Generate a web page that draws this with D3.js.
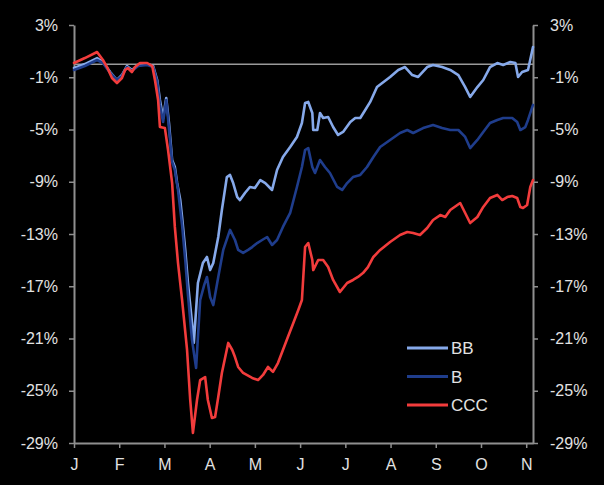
<!DOCTYPE html>
<html>
<head>
<meta charset="utf-8">
<script src="https://cdn.jsdelivr.net/npm/d3@7"></script>
<style>
  html, body { margin: 0; padding: 0; background: #000; }
  svg { display: block; }
  text { font-family: "Liberation Sans", Arial, sans-serif; fill: #e2e2e2; }
</style>
</head>
<body>
<svg id="chart" width="604" height="485"></svg>
<script>
// Month labels (x positions are month index: 0 = J(an) ... 10 = N(ov))
const monthLabels = ["J","F","M","A","M","J","J","A","S","O","N"];
const yTicks = [3, -1, -5, -9, -13, -17, -21, -25, -29];
const seriesNames = ["BB", "B", "CCC"];

// Each series: [month position, return %]
const bbData = [
  [0,-0.29],[0.24,0.01],[0.51,0.47],[0.64,0.17],[0.80,-0.60],[0.95,-1.21],[1.06,-0.83],[1.17,-0.14],
  [1.28,-0.44],[1.42,-0.06],[1.62,0.01],[1.75,-0.14],[1.84,-1.21],[1.90,-2.74],[1.97,-4.12],[2.04,-2.59],
  [2.10,-4.50],[2.17,-7.34],[2.23,-7.87],[2.28,-9.10],[2.35,-10.40],[2.39,-11.70],[2.46,-14.22],[2.52,-16.75],
  [2.61,-19.81],[2.65,-21.34],[2.74,-16.75],[2.85,-15.22],[2.94,-14.76],[3.01,-15.76],[3.08,-15.22],[3.19,-13.23],
  [3.27,-11.16],[3.38,-8.64],[3.45,-8.48],[3.52,-9.10],[3.61,-10.17],[3.67,-10.40],[3.78,-9.86],[3.89,-9.40],
  [4.00,-9.48],[4.12,-8.87],[4.23,-9.10],[4.38,-9.63],[4.49,-8.10],[4.62,-7.11],[4.78,-6.34],[4.93,-5.57],
  [5.04,-4.50],[5.11,-2.97],[5.18,-2.89],[5.27,-3.74],[5.29,-5.04],[5.38,-5.04],[5.44,-3.74],[5.51,-4.12],
  [5.62,-4.04],[5.73,-4.81],[5.84,-5.42],[5.95,-5.19],[6.11,-4.43],[6.22,-4.12],[6.33,-4.12],[6.44,-3.51],
  [6.55,-2.89],[6.70,-1.75],[6.99,-0.98],[7.17,-0.44],[7.32,-0.22],[7.48,-0.83],[7.61,-0.98],[7.81,-0.22],
  [7.94,-0.06],[8.14,-0.22],[8.32,-0.44],[8.50,-0.83],[8.65,-1.75],[8.76,-2.51],[8.92,-1.75],[9.05,-1.21],
  [9.20,-0.22],[9.36,0.09],[9.49,-0.06],[9.65,0.17],[9.76,0.09],[9.82,-0.98],[9.91,-0.60],[10.04,-0.44],
  [10.15,1.32]
];
const bData = [
  [0,-0.44],[0.24,-0.14],[0.51,0.32],[0.64,0.09],[0.80,-0.67],[0.95,-1.21],[1.06,-0.90],[1.17,-0.22],
  [1.28,-0.52],[1.42,-0.14],[1.62,-0.06],[1.75,-0.22],[1.84,-1.36],[1.90,-3.12],[1.97,-4.43],[2.04,-2.74],
  [2.10,-4.89],[2.17,-7.49],[2.23,-8.10],[2.30,-9.63],[2.39,-12.31],[2.46,-14.99],[2.52,-17.67],[2.61,-21.12],
  [2.70,-23.26],[2.79,-18.05],[2.88,-16.90],[2.94,-16.29],[3.01,-17.82],[3.08,-18.44],[3.19,-16.29],[3.30,-14.22],
  [3.45,-12.69],[3.56,-13.46],[3.63,-14.22],[3.74,-14.45],[3.85,-14.22],[3.94,-14.00],[4.05,-13.69],[4.16,-13.46],
  [4.27,-13.23],[4.38,-13.84],[4.49,-13.46],[4.62,-12.46],[4.78,-11.39],[4.93,-9.40],[5.04,-7.87],[5.11,-6.57],
  [5.18,-6.42],[5.27,-7.87],[5.33,-8.33],[5.44,-7.34],[5.55,-7.87],[5.66,-8.33],[5.82,-9.40],[5.93,-9.63],
  [6.04,-9.10],[6.17,-8.64],[6.33,-8.48],[6.48,-7.87],[6.62,-7.11],[6.77,-6.34],[6.99,-5.80],[7.21,-5.27],
  [7.37,-5.04],[7.50,-5.27],[7.72,-4.89],[7.94,-4.66],[8.14,-4.89],[8.32,-5.04],[8.50,-5.04],[8.65,-5.57],
  [8.76,-6.42],[8.92,-5.80],[9.05,-5.19],[9.20,-4.50],[9.36,-4.27],[9.49,-4.12],[9.69,-4.12],[9.80,-4.43],
  [9.87,-5.04],[9.98,-4.81],[10.04,-4.27],[10.15,-3.12]
];
const cccData = [
  [0,0.09],[0.24,0.47],[0.51,0.93],[0.64,0.32],[0.73,-0.22],[0.84,-1.06],[0.95,-1.44],[1.06,-1.06],
  [1.13,-0.44],[1.19,-0.29],[1.28,-0.60],[1.35,-0.22],[1.46,0.09],[1.62,0.09],[1.73,-0.14],[1.79,-1.21],
  [1.86,-2.74],[1.90,-4.81],[2.01,-4.89],[2.08,-6.57],[2.17,-9.10],[2.23,-12.46],[2.30,-15.22],[2.39,-18.05],
  [2.50,-21.88],[2.57,-25.71],[2.63,-28.23],[2.72,-25.71],[2.79,-24.18],[2.90,-23.95],[2.96,-25.71],[3.05,-27.09],
  [3.12,-27.01],[3.19,-25.48],[3.27,-23.64],[3.41,-21.34],[3.50,-21.88],[3.56,-22.42],[3.63,-23.18],[3.74,-23.64],
  [3.94,-24.02],[4.07,-24.18],[4.18,-23.79],[4.29,-23.18],[4.40,-23.56],[4.51,-22.88],[4.62,-21.88],[4.73,-20.89],
  [4.85,-19.81],[4.96,-18.82],[5.04,-18.05],[5.11,-14.00],[5.18,-13.69],[5.27,-14.99],[5.29,-15.76],[5.40,-14.99],
  [5.51,-14.99],[5.62,-15.53],[5.73,-16.52],[5.88,-17.44],[6.04,-16.75],[6.17,-16.52],[6.28,-16.29],[6.39,-15.99],
  [6.50,-15.53],[6.62,-14.76],[6.77,-14.22],[6.99,-13.61],[7.21,-13.08],[7.37,-12.85],[7.50,-12.92],[7.65,-13.08],
  [7.81,-12.54],[7.94,-11.93],[8.10,-11.55],[8.21,-11.70],[8.32,-11.16],[8.54,-10.63],[8.65,-11.39],[8.76,-12.16],
  [8.92,-11.70],[9.05,-10.93],[9.20,-10.24],[9.36,-10.01],[9.47,-10.40],[9.58,-10.17],[9.69,-10.09],[9.80,-10.24],
  [9.87,-10.93],[9.93,-11.01],[10.02,-10.78],[10.09,-9.40],[10.15,-8.87]
];
const seriesColors = ["#86a9ea", "#1f3d8c", "#f23c3c"];

const svg = d3.select("#chart");
const mLeft = 74, mRight = 533, mTop = 25, mBottom = 443;
const x = d3.scaleLinear().domain([0, 10.15]).range([mLeft, mRight]);
const y = d3.scaleLinear().domain([-29, 3]).range([mBottom, mTop]);

const axisColor = "#8f8f8f";

// zero line
svg.append("line")
  .attr("x1", mLeft).attr("x2", mRight)
  .attr("y1", y(0)).attr("y2", y(0))
  .attr("stroke", "#9a9a9a").attr("stroke-width", 1.5);

// left axis
const gl = svg.append("g").attr("transform", `translate(${mLeft},0)`)
  .call(d3.axisLeft(y).tickValues(yTicks).tickSize(5).tickSizeOuter(0).tickPadding(11).tickFormat(d => d + "%"));
// right axis
const gr = svg.append("g").attr("transform", `translate(${mRight},0)`)
  .call(d3.axisRight(y).tickValues(yTicks).tickSize(5).tickSizeOuter(0).tickPadding(12).tickFormat(d => d + "%"));
// bottom axis
const gb = svg.append("g").attr("transform", `translate(0,${mBottom})`)
  .call(d3.axisBottom(x).tickValues(d3.range(0, 11)).tickSize(5).tickSizeOuter(0).tickPadding(11).tickFormat(i => monthLabels[i]));

[gl, gr, gb].forEach(g => {
  g.selectAll(".domain").attr("stroke", axisColor).attr("stroke-width", 2);
  g.selectAll(".tick line").attr("stroke", axisColor).attr("stroke-width", 1.5);
  g.selectAll(".tick text").attr("fill", "#e2e2e2").style("font-size", "16px")
    .style("font-family", '"Liberation Sans", Arial, sans-serif');
});

// lines
const line = d3.line().x(d => x(d[0])).y(d => y(d[1])).curve(d3.curveLinear);
const allSeries = [bbData, bData, cccData];
[0, 1, 2].forEach(i => {
  svg.append("path")
    .datum(allSeries[i])
    .attr("fill", "none")
    .attr("stroke", seriesColors[i])
    .attr("stroke-width", 2.6)
    .attr("stroke-linejoin", "round")
    .attr("stroke-linecap", "round")
    .attr("d", line);
});

// legend
const legend = svg.append("g").attr("transform", "translate(407,348)");
seriesNames.forEach((name, i) => {
  const g = legend.append("g").attr("transform", `translate(0,${i * 28.5})`);
  g.append("line").attr("x1", 0).attr("x2", 41).attr("y1", 0).attr("y2", 0)
    .attr("stroke", seriesColors[i]).attr("stroke-width", 3);
  g.append("text").attr("x", 44).attr("y", 0).attr("dy", "0.36em")
    .style("font-size", "17px").text(name);
});
</script>
</body>
</html>
